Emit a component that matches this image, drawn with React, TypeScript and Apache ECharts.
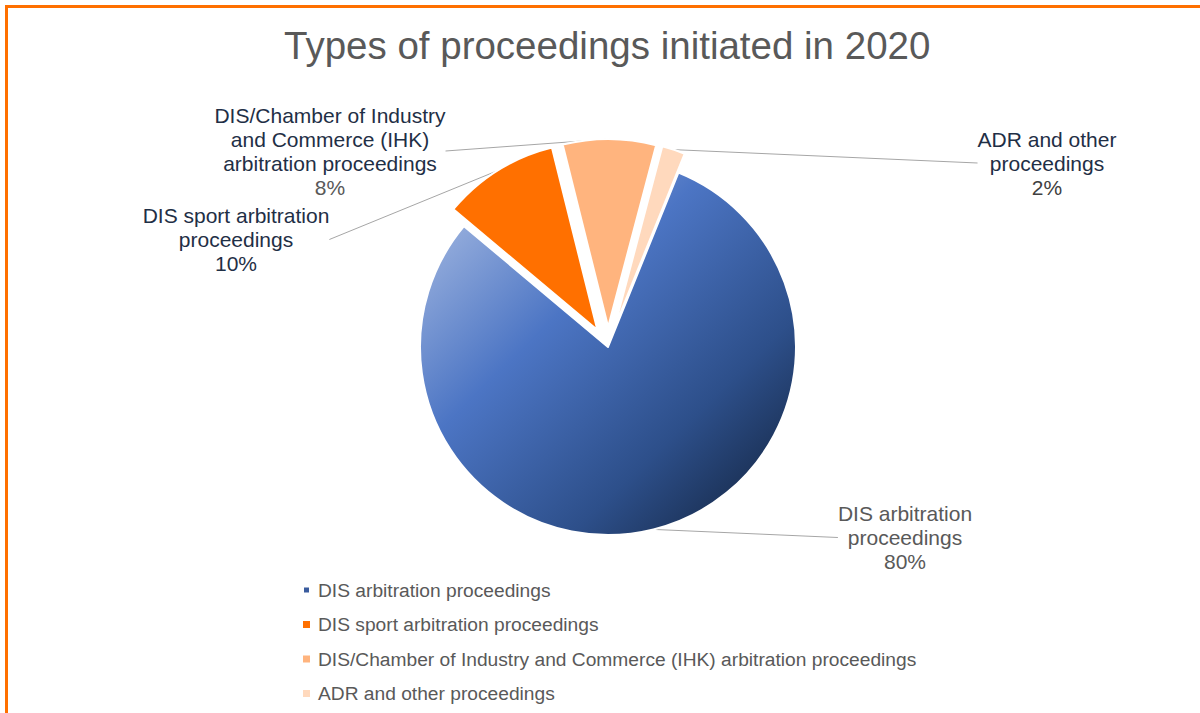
import React, { useEffect, useRef } from "react";
import * as echarts from "echarts";

const titleText = "Types of proceedings initiated in 2020";
const categories = [
  "DIS arbitration proceedings",
  "DIS sport arbitration proceedings",
  "DIS/Chamber of Industry and Commerce (IHK) arbitration proceedings",
  "ADR and other proceedings",
];
const labelNames = [
  "DIS arbitration\nproceedings",
  "DIS sport arbitration\nproceedings",
  "DIS/Chamber of Industry\nand Commerce (IHK)\narbitration proceedings",
  "ADR and other\nproceedings",
];
const values = [80, 10, 8, 2];
const exploded = [false, true, true, true];

const FONT = "'Liberation Sans', Arial, sans-serif";
const sliceColors: any[] = [
  {
    type: "linear",
    x: 0,
    y: 0,
    x2: 1,
    y2: 1,
    colorStops: [
      { offset: 0, color: "#B3C4E6" },
      { offset: 0.38, color: "#4C75C4" },
      { offset: 0.7, color: "#2D4F8A" },
      { offset: 1, color: "#0F1D33" },
    ],
  },
  "#FF7000",
  "#FFB47E",
  "#FFD9BD",
];
const legendColors = ["#3A5C9E", "#FF7000", "#FFB47E", "#FFD9BD"];
const nameColors = ["#595959", "#1F2F46", "#1F2F46", "#1F2F46"];
const pctColors = ["#595959", "#1F2F46", "#595959", "#404040"];
const labelPos = [
  { x: 905, y: 501.5 },
  { x: 236, y: 203.5 },
  { x: 330, y: 103 },
  { x: 1047, y: 127 },
];

const CX = 608;
const CY = 347;
const R = 188;
const START = 68;
const EXPLODE = 20;

export default function App() {
  const ref = useRef<HTMLDivElement>(null);
  useEffect(() => {
    if (!ref.current) return;
    const chart = echarts.init(ref.current, undefined, { renderer: "svg" });
    const total = values.reduce((a, b) => a + b, 0);
    let cum = 0;
    const mids = values.map((v) => {
      const m = START - (360 * (cum + v / 2)) / total;
      cum += v;
      return (m * Math.PI) / 180;
    });
    const series = categories.map((_, i) => {
      const off = exploded[i] ? EXPLODE : 0;
      return {
        type: "pie",
        name: "s" + i,
        center: [CX + off * Math.cos(mids[i]), CY - off * Math.sin(mids[i])],
        radius: R,
        startAngle: START,
        clockwise: true,
        silent: true,
        avoidLabelOverlap: false,
        emphasis: { disabled: true },
        label: {
          show: false,
          position: "outside",
          fontFamily: FONT,
          fontSize: 21,
          lineHeight: 24,
          align: "center",
        },
        labelLine: {
          show: false,
          length: 0,
          length2: 0,
          lineStyle: { color: "#A6A6A6", width: 1 },
        },
        labelLayout: (params: any) => {
          if (params.dataIndex !== i) return {};
          const p = labelPos[i];
          return { x: p.x, y: p.y, align: "center", verticalAlign: "top" };
        },
        data: categories.map((name, j) => ({
          name,
          value: values[j],
          itemStyle:
            j === i
              ? { color: sliceColors[j], borderColor: "#ffffff", borderWidth: 2 }
              : { color: "rgba(0,0,0,0)", borderWidth: 0 },
          label:
            j === i
              ? {
                  show: true,
                  formatter: labelNames[j] + "\n{p|{d}%}",
                  color: nameColors[j],
                  rich: {
                    p: {
                      fontFamily: FONT,
                      fontSize: 21,
                      lineHeight: 24,
                      color: pctColors[j],
                    },
                  },
                }
              : { show: false },
          labelLine: { show: j === i },
        })),
      };
    });
    chart.setOption({
      animation: false,
      backgroundColor: "#ffffff",
      title: {
        text: titleText,
        left: 279,
        top: 21,
        textStyle: {
          fontFamily: FONT,
          fontSize: 38.5,
          fontWeight: "normal",
          color: "#595959",
        },
      },
      legend: {
        orient: "vertical",
        left: 297,
        top: 575,
        itemWidth: 7,
        itemHeight: 7,
        itemGap: 14.5,
        icon: "rect",
        selectedMode: false,
        data: categories.map((name, i) => ({
          name,
          itemStyle: { color: legendColors[i] },
        })),
        textStyle: {
          fontFamily: FONT,
          fontSize: 19.2,
          lineHeight: 20,
          color: "#595959",
          padding: [0, 0, 0, 3],
        },
      },
      series,
    });
    return () => chart.dispose();
  }, []);
  return (
    <div style={{ position: "fixed", left: 0, top: 0, width: 1200, height: 713, background: "#fff" }}>
      <div ref={ref} style={{ position: "absolute", left: 0, top: 0, width: 1200, height: 713 }} />
      <div
        style={{
          position: "absolute",
          left: 5,
          top: 5,
          width: 1195,
          height: 708,
          borderTop: "3px solid #FF7000",
          borderLeft: "3px solid #FF7000",
          boxSizing: "border-box",
          pointerEvents: "none",
        }}
      />
    </div>
  );
}
